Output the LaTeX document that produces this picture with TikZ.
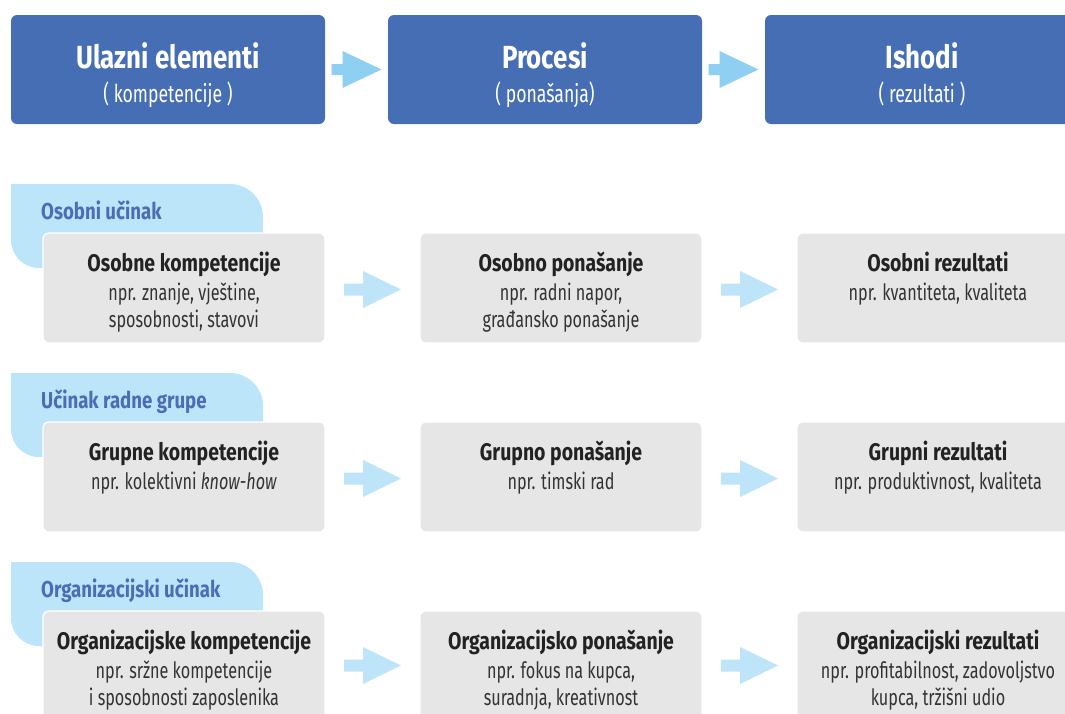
\documentclass[tikz,border=0pt]{standalone}
\usepackage{fontspec}
\setmainfont[FakeStretch=0.72,BoldFeatures={FakeStretch=0.81}]{Fira Sans}
\usetikzlibrary{calc}
\definecolor{topblue}{HTML}{466EB5}
\definecolor{tabblue}{HTML}{BDE5F9}
\definecolor{arrtop}{HTML}{8FD0F2}
\definecolor{arrrow}{HTML}{BDE4F8}
\definecolor{greybox}{HTML}{E6E6E6}
\definecolor{darktext}{HTML}{222222}
\definecolor{bodytext}{HTML}{333333}
\definecolor{labelblue}{HTML}{4A6DB5}
\newcommand\BlockArrow[6]{% center, total length, shaft length, shaft half, head half, colour
  \fill[#6, shift={(#1)}] ({-#2/2},{-#4}) -- ({-#2/2+#3},{-#4}) -- ({-#2/2+#3},{-#5}) -- ({#2/2},0)
     -- ({-#2/2+#3},{#5}) -- ({-#2/2+#3},{#4}) -- ({-#2/2},{#4}) -- cycle;}
\newcommand\TabShape[1]{%
  \fill[tabblue] (11,#1) -- (230,#1) arc[start angle=270,end angle=360,radius=33]
     -- (263,#1+84) -- (39,#1+84) arc[start angle=90,end angle=180,radius=28] -- cycle;}
\begin{document}
\begin{tikzpicture}[x=1pt,y=-1pt,
  topbox/.style={fill=topblue, rounded corners=6pt, minimum width=314pt, minimum height=109pt, inner sep=0pt},
  toptitle/.style={text=white, font=\fontsize{32}{40}\selectfont\bfseries, inner sep=0pt, anchor=base},
  topsub/.style={text=white, font=\fontsize{24.5}{28}\selectfont, inner sep=0pt, anchor=base},
  cellbox/.style={fill=greybox, draw=white, line width=1.2pt, rounded corners=6pt, minimum width=282pt, minimum height=110pt, inner sep=0pt},
  celltitle/.style={text=darktext, font=\fontsize{24}{28}\selectfont\bfseries, inner sep=0pt, anchor=base},
  cellbody/.style={text=bodytext, font=\fontsize{22.5}{26}\selectfont, inner sep=0pt, anchor=base},
  tablabel/.style={text=labelblue, font=\fontsize{23}{26}\selectfont\bfseries, inner sep=0pt, anchor=base west}]
\useasboundingbox (0,0) rectangle (1065,713);
\clip (0,0) rectangle (1065,713);

% top row
\node[topbox] (top1) at (168,69.5) {};
\node[topbox] (top2) at (545,69.5) {};
\node[topbox] (top3) at (922,69.5) {};
\node[toptitle] (top1t) at (168,68) {Ulazni elementi};
\node[topsub] (top1s) at (168,102) {( kompetencije )};
\node[toptitle] (top2t) at (545,68) {Procesi};
\node[topsub] (top2s) at (545,102) {( ponašanja)};
\node[toptitle] (top3t) at (922,68) {Ishodi};
\node[topsub] (top3s) at (922,102) {( rezultati )};
\coordinate (ta1) at ($(top1.east)!0.5!(top2.west)$);
\coordinate (ta2) at ($(top2.east)!0.5!(top3.west)$);
\BlockArrow{ta1}{50}{11}{5.5}{18.5}{arrtop}
\BlockArrow{ta2}{50}{11}{5.5}{18.5}{arrtop}

% row 1
\TabShape{184}
\node[tablabel] (l1) at (41,219) {Osobni učinak};
\node[cellbox] (c11) at (184,288) {};
\node[cellbox] (c12) at (561,288) {};
\node[cellbox] (c13) at (938,288) {};
\node[celltitle] (c11t) at (184,271) {Osobne kompetencije};
\node[cellbody] (c11a) at (184,300) {npr. znanje, vještine,};
\node[cellbody] (c11b) at (184,327) {sposobnosti, stavovi};
\node[celltitle] (c12t) at (561,271) {Osobno ponašanje};
\node[cellbody] (c12a) at (561,300) {npr. radni napor,};
\node[cellbody] (c12b) at (561,327) {građansko ponašanje};
\node[celltitle] (c13t) at (938,271) {Osobni rezultati};
\node[cellbody] (c13a) at (938,300) {npr. kvantiteta, kvaliteta};
\coordinate (a11) at ($(c11.east)!0.5!(c12.west)+(0,1.5)$);
\coordinate (a12) at ($(c12.east)!0.5!(c13.west)+(0,1.5)$);
\BlockArrow{a11}{57}{19}{6}{18.5}{arrrow}
\BlockArrow{a12}{57}{19}{6}{18.5}{arrrow}

% row 2
\TabShape{373}
\node[tablabel] (l2) at (41,408) {Učinak radne grupe};
\node[cellbox] (c21) at (184,477) {};
\node[cellbox] (c22) at (561,477) {};
\node[cellbox] (c23) at (938,477) {};
\node[celltitle] (c21t) at (184,460) {Grupne kompetencije};
\node[cellbody] (c21a) at (184,489) {npr. kolektivni \textit{know-how}};
\node[celltitle] (c22t) at (561,460) {Grupno ponašanje};
\node[cellbody] (c22a) at (561,489) {npr. timski rad};
\node[celltitle] (c23t) at (938,460) {Grupni rezultati};
\node[cellbody] (c23a) at (938,489) {npr. produktivnost, kvaliteta};
\coordinate (a21) at ($(c21.east)!0.5!(c22.west)+(0,1.5)$);
\coordinate (a22) at ($(c22.east)!0.5!(c23.west)+(0,1.5)$);
\BlockArrow{a21}{57}{19}{6}{18.5}{arrrow}
\BlockArrow{a22}{57}{19}{6}{18.5}{arrrow}

% row 3
\TabShape{562}
\node[tablabel] (l3) at (41,597) {Organizacijski učinak};
\node[cellbox] (c31) at (184,666) {};
\node[cellbox] (c32) at (561,666) {};
\node[cellbox] (c33) at (938,666) {};
\node[celltitle] (c31t) at (184,649) {Organizacijske kompetencije};
\node[cellbody] (c31a) at (184,678) {npr. sržne kompetencije};
\node[cellbody] (c31b) at (184,705) {i sposobnosti zaposlenika};
\node[celltitle] (c32t) at (561,649) {Organizacijsko ponašanje};
\node[cellbody] (c32a) at (561,678) {npr. fokus na kupca,};
\node[cellbody] (c32b) at (561,705) {suradnja, kreativnost};
\node[celltitle] (c33t) at (938,649) {Organizacijski rezultati};
\node[cellbody] (c33a) at (938,678) {npr. profitabilnost, zadovoljstvo};
\node[cellbody] (c33b) at (938,705) {kupca, tržišni udio};
\coordinate (a31) at ($(c31.east)!0.5!(c32.west)+(0,-0.5)$);
\coordinate (a32) at ($(c32.east)!0.5!(c33.west)+(0,-0.5)$);
\BlockArrow{a31}{57}{19}{6}{18.5}{arrrow}
\BlockArrow{a32}{57}{19}{6}{18.5}{arrrow}
\end{tikzpicture}
\end{document}
